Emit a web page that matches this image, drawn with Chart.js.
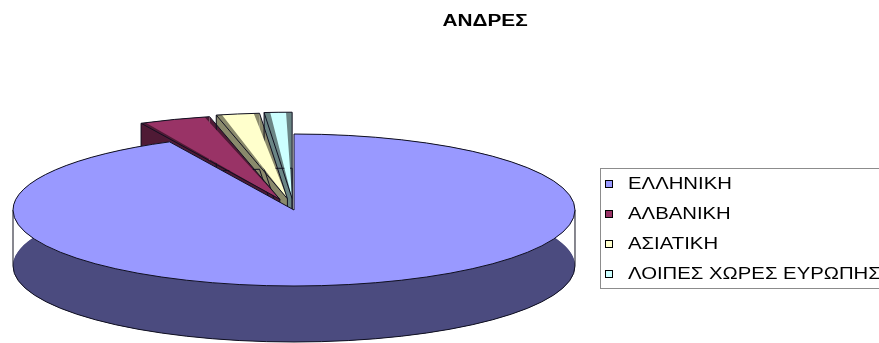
<!DOCTYPE html>
<html>
<head>
<meta charset="utf-8">
<script src="https://cdn.jsdelivr.net/npm/chart.js@4.4.0/dist/chart.umd.min.js"></script>
<style>
  html, body { margin: 0; padding: 0; background: #fff; }
  canvas { display: block; }
</style>
</head>
<body>
<canvas id="mycanvas" width="879" height="343"></canvas>
<script>
var title = 'ΑΝΔΡΕΣ';
var labels = ['ΕΛΛΗΝΙΚΗ', 'ΑΛΒΑΝΙΚΗ', 'ΑΣΙΑΤΙΚΗ', 'ΛΟΙΠΕΣ ΧΩΡΕΣ ΕΥΡΩΠΗΣ'];
var values = [92.7, 3.7, 2.2, 1.4];

// which slices are pulled out of the pie
var exploded = [false, true, true, true];
var topColors = ['#9999ff', '#993366', '#ffffcc', '#ccffff'];
var sideColors = ['#4b4b7f', '#4f1a35', '#8a8a6c', '#6a8585'];
var edgeColor = '#101020';

// flat pie -> tilted disc on screen
var disc = { cx: 294, cy: 210, rx: 281, ry: 76, depth: 56 };
var RADIUS = 150;
var EXPLODE = 90;

function sliceGeom(arc, dy) {
  // same geometry ArcElement.draw uses for an offset slice
  var t = (arc.options.offset || 0) / 4;
  var mid = (arc.startAngle + arc.endAngle) / 2;
  var fix = 1 - Math.sin(Math.min(Math.PI, arc.circumference));
  return {
    x: arc.x + Math.cos(mid) * t,
    y: arc.y + Math.sin(mid) * t + (dy || 0),
    r: arc.outerRadius + t * fix,
    a0: arc.startAngle,
    a1: arc.endAngle
  };
}

function wedge(ctx, g) {
  ctx.beginPath();
  ctx.moveTo(g.x, g.y);
  ctx.arc(g.x, g.y, g.r, g.a0, g.a1);
  ctx.closePath();
}

function strokeScreen(chart) {
  var ctx = chart.ctx, dpr = chart.currentDevicePixelRatio;
  ctx.save();
  ctx.setTransform(dpr, 0, 0, dpr, 0, 0);
  ctx.lineWidth = 1;
  ctx.strokeStyle = edgeColor;
  ctx.stroke();
  ctx.restore();
}

var pie3d = {
  id: 'pie3d',
  beforeDatasetsDraw: function(chart) {
    var ctx = chart.ctx;
    var arcs = chart.getDatasetMeta(0).data;
    var R = arcs[0].outerRadius;
    var sx = disc.rx / R, sy = disc.ry / R;
    var dz = disc.depth / sy;

    ctx.save();
    ctx.translate(disc.cx, disc.cy);
    ctx.scale(sx, sy);
    ctx.translate(-arcs[0].x, -arcs[0].y);

    // side walls, drawn before the top faces so those hide the back
    for (var i = arcs.length - 1; i >= 0; i--) {
      var g = sliceGeom(arcs[i]);
      ctx.fillStyle = sideColors[i];
      wedge(ctx, sliceGeom(arcs[i], dz));
      ctx.fill();
      ctx.beginPath();
      ctx.arc(g.x, g.y, g.r, g.a0, g.a1);
      ctx.arc(g.x, g.y + dz, g.r, g.a1, g.a0, true);
      ctx.closePath();
      ctx.fill();
      [g.a0, g.a1].forEach(function(a) {
        var ex = g.x + Math.cos(a) * g.r, ey = g.y + Math.sin(a) * g.r;
        ctx.beginPath();
        ctx.moveTo(g.x, g.y);
        ctx.lineTo(ex, ey);
        ctx.lineTo(ex, ey + dz);
        ctx.lineTo(g.x, g.y + dz);
        ctx.closePath();
        ctx.fill();
      });
    }

    // side edges
    for (var j = 0; j < arcs.length; j++) {
      var s = sliceGeom(arcs[j]);
      ctx.beginPath();
      if (s.a1 - s.a0 > Math.PI) {
        // big slice: front rim plus the two silhouette verticals
        var lo = Math.max(s.a0, 0), hi = Math.min(s.a1, Math.PI);
        ctx.arc(s.x, s.y + dz, s.r, lo, hi);
        [0, Math.PI].forEach(function(a) {
          ctx.moveTo(s.x + Math.cos(a) * s.r, s.y);
          ctx.lineTo(s.x + Math.cos(a) * s.r, s.y + dz);
        });
      } else {
        ctx.moveTo(s.x, s.y + dz);
        ctx.arc(s.x, s.y + dz, s.r, s.a0, s.a1);
        ctx.closePath();
        ctx.moveTo(s.x, s.y);
        ctx.lineTo(s.x, s.y + dz);
        ctx.moveTo(s.x + Math.cos(s.a0) * s.r, s.y + Math.sin(s.a0) * s.r);
        ctx.lineTo(s.x + Math.cos(s.a0) * s.r, s.y + Math.sin(s.a0) * s.r + dz);
      }
      strokeScreen(chart);
    }
  },
  afterDatasetsDraw: function(chart) {
    var ctx = chart.ctx;
    var arcs = chart.getDatasetMeta(0).data;
    for (var i = 0; i < arcs.length; i++) {
      wedge(ctx, sliceGeom(arcs[i]));
      strokeScreen(chart);
    }
    ctx.restore();
  }
};

var legendBox = {
  id: 'legendBox',
  afterDraw: function(chart) {
    var ctx = chart.ctx;
    ctx.save();
    ctx.fillStyle = '#000';
    ctx.textBaseline = 'middle';

    ctx.save();
    ctx.font = 'bold 16px "Liberation Sans", Arial, sans-serif';
    ctx.textAlign = 'center';
    ctx.translate(485, 22);
    ctx.scale(1.3, 1);
    ctx.fillText(title, 0, 0);
    ctx.restore();

    ctx.strokeStyle = '#8c8c8c';
    ctx.lineWidth = 1;
    ctx.strokeRect(600.5, 168.5, 300, 120);

    ctx.font = '16px "Liberation Sans", Arial, sans-serif';
    ctx.textAlign = 'left';
    for (var i = 0; i < labels.length; i++) {
      var y = 184 + i * 30;
      ctx.fillStyle = topColors[i];
      ctx.fillRect(605, y - 4, 8, 8);
      ctx.strokeStyle = '#000';
      ctx.strokeRect(605.5, y - 3.5, 7, 7);
      ctx.save();
      ctx.fillStyle = '#000';
      ctx.translate(628, y + 1);
      ctx.scale(1.27, 1);
      ctx.fillText(labels[i], 0, 0);
      ctx.restore();
    }
    ctx.restore();
  }
};

new Chart(document.getElementById('mycanvas'), {
  type: 'pie',
  data: {
    labels: labels,
    datasets: [{
      data: values,
      backgroundColor: topColors,
      borderWidth: 0,
      offset: exploded.map(function(e) { return e ? EXPLODE : 0; }),
      hoverOffset: 0,
      radius: RADIUS,
      clip: false
    }]
  },
  options: {
    responsive: false,
    animation: false,
    events: [],
    layout: { padding: 0 },
    plugins: {
      legend: { display: false },
      title: { display: false },
      tooltip: { enabled: false }
    }
  },
  plugins: [pie3d, legendBox]
});
</script>
</body>
</html>
